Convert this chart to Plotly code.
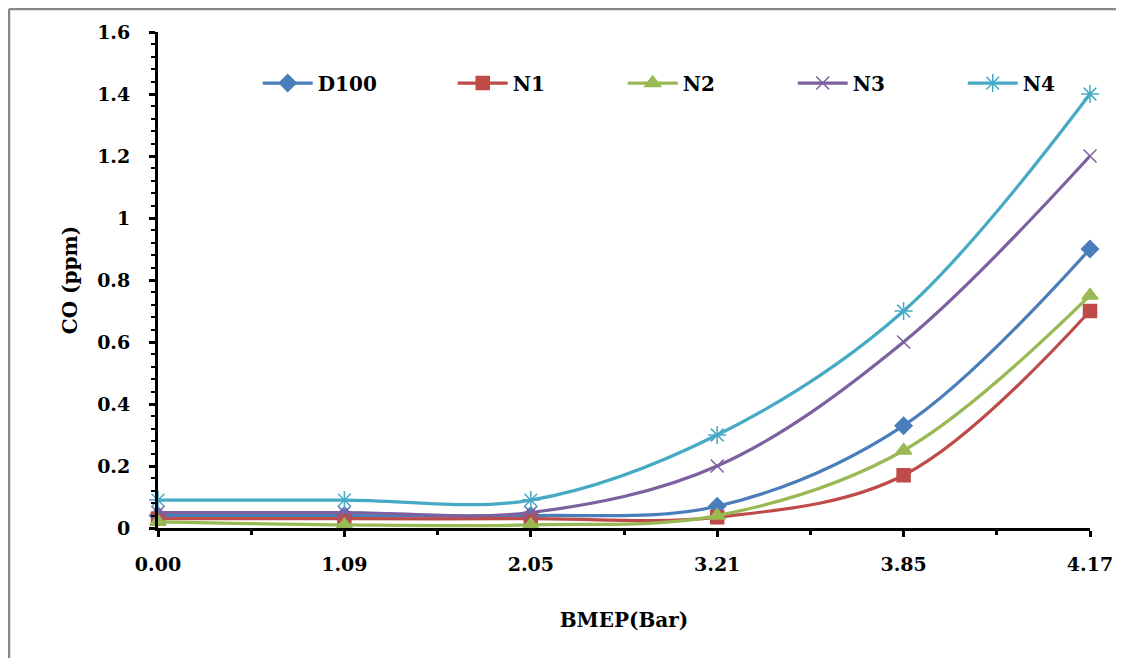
import plotly.graph_objects as go

categories = ["0.00", "1.09", "2.05", "3.21", "3.85", "4.17"]
d100 = [0.04, 0.04, 0.04, 0.07, 0.33, 0.90]
n1 = [0.03, 0.03, 0.03, 0.035, 0.17, 0.70]
n2 = [0.02, 0.01, 0.01, 0.04, 0.25, 0.75]
n3 = [0.05, 0.05, 0.05, 0.20, 0.60, 1.20]
n4 = [0.09, 0.09, 0.09, 0.30, 0.70, 1.40]
y_ticks = [0, 0.2, 0.4, 0.6, 0.8, 1.0, 1.2, 1.4, 1.6]

series = [
    ("D100", d100, "#4A7EBB", "diamond", 13, 130),
    ("N1", n1, "#BE4B48", "square", 13, 105),
    ("N2", n2, "#98B954", "triangle-up", 14, 105),
    ("N3", n3, "#7D60A0", "x-thin-open", 13, 105),
    ("N4", n4, "#46AAC5", "asterisk-open", 15, 40),
]

xpos = list(range(len(categories)))
fig = go.Figure()
for name, vals, color, sym, size, lw in series:
    fig.add_trace(go.Scatter(
        x=xpos, y=vals, name=name, mode="lines+markers",
        line=dict(color=color, width=3.2, shape="spline", smoothing=1),
        marker=dict(symbol=sym, size=size, color=color,
                    line=dict(color=color, width=1.5)),
        cliponaxis=False,
        legendwidth=lw,
    ))

ff = "DejaVu Serif"
# page body has an 8px margin; the figure is sized/placed to compensate
fig.update_layout(
    width=1116, height=650,
    margin=dict(l=150, r=34, t=24, b=130),
    paper_bgcolor="white", plot_bgcolor="white",
    showlegend=True,
    legend=dict(orientation="h", x=0.107, y=0.897, xanchor="left", yanchor="middle",
                font=dict(family=ff, size=20, color="black", weight="bold"),
                bgcolor="rgba(0,0,0,0)", itemwidth=50),
    font=dict(family=ff, color="black"),
)
fig.update_xaxes(
    range=[0, 5], tickvals=xpos, ticktext=categories,
    showgrid=False, zeroline=False,
    showline=True, linecolor="black", linewidth=3,
    ticks="outside", ticklen=6, tickwidth=3, tickcolor="black",
    minor=dict(tickvals=[0.5, 1.5, 2.5, 3.5, 4.5], ticks="outside", ticklen=4,
               tickwidth=3, tickcolor="black"),
    tickfont=dict(family=ff, size=19, color="black", weight="bold"),
    ticklabelstandoff=11,
    title=dict(text="BMEP(Bar)", standoff=40,
               font=dict(family=ff, size=20, color="black", weight="bold")),
)
fig.update_yaxes(
    range=[0, 1.6], tickvals=y_ticks,
    showgrid=False, zeroline=False,
    showline=True, linecolor="black", linewidth=3,
    ticks="outside", ticklen=6, tickwidth=3, tickcolor="black",
    minor=dict(dtick=0.04, ticks="outside", ticklen=4, tickwidth=2, tickcolor="black"),
    tickfont=dict(family=ff, size=19, color="black", weight="bold"),
    ticklabelstandoff=15,
    title=dict(text="CO (ppm)", standoff=15,
               font=dict(family=ff, size=20, color="black", weight="bold")),
)

# outer frame (left and top edges visible)
W, H = 932.0, 496.0
x_left = (1 - 150) / W
x_right = (1130 - 150) / W
y_top = (520 - 1) / H
y_bot = (520 - 665) / H
fig.add_shape(type="line", xref="paper", yref="paper", x0=x_left, x1=x_right,
              y0=y_top, y1=y_top, line=dict(color="#888888", width=2.5))
fig.add_shape(type="line", xref="paper", yref="paper", x0=x_left, x1=x_left,
              y0=y_top, y1=y_bot, line=dict(color="#888888", width=2.5))

fig.write_html("out.html")
